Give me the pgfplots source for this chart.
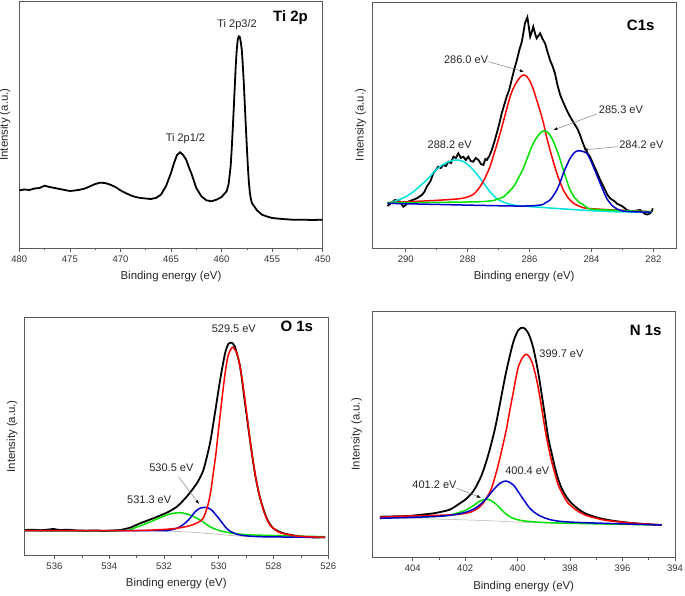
\documentclass[border=0pt]{standalone}
\usepackage{pgfplots}
\pgfplotsset{compat=1.18}
\usepackage{fontspec}
\setmainfont{Liberation Sans}
\usetikzlibrary{arrows.meta}
\definecolor{cred}{RGB}{255,0,0}
\definecolor{cgreen}{RGB}{0,225,0}
\definecolor{cblue}{RGB}{0,0,205}
\definecolor{ccyan}{RGB}{0,225,225}
\definecolor{axgray}{RGB}{90,90,90}
\pgfplotsset{
  xps/.style={
    scale only axis, x dir=reverse, ymin=0,
    ytick=\empty, xtick pos=bottom, tick align=outside,
    major tick length=4pt, minor tick length=2.5pt, minor x tick num=1,
    axis line style={axgray, line width=0.6pt},
    every tick/.style={axgray, line width=0.6pt},
    /pgf/number format/assume math mode=true,
    /pgf/number format/1000 sep={},
    ticklabel style={font=\fontsize{9.5}{10}\selectfont, text=black!80},
    xlabel={Binding energy (eV)}, ylabel={Intensity (a.u.)},
    every axis x label/.style={at={(axis description cs:0.5,0)}, anchor=center, yshift=-29pt, font=\fontsize{11.4}{13}\selectfont, text=black!85},
    every axis y label/.style={at={(axis description cs:0,0.5)}, rotate=90, anchor=center, font=\fontsize{11.4}{13}\selectfont, text=black!85},
  },
  spec/.style={black, line width=1.8pt},
  comp/.style={line width=1.5pt, smooth},
}
\tikzset{
  ann/.style={font=\fontsize{11}{13}\selectfont, text=black!85},
  ttl/.style={font=\bfseries\fontsize{15}{17}\selectfont},
  arr/.style={gray, line width=0.5pt, -{Latex[length=4pt,width=3pt,black]}},
}
\begin{document}
\begin{tikzpicture}
\path[use as bounding box] (0,0) rectangle (685pt,595pt);
% ---------------- Ti 2p
\begin{axis}[xps, at={(19.3pt,347pt)}, anchor=south west, width=303.4pt, height=247pt,
  xmin=450, xmax=480, ymax=247, xtick={450,455,...,480},
  ylabel style={yshift=14.3pt}]
\addplot[spec] coordinates {
(480,57.7) (479.5,58.5) (479,58) (478.5,59.5) (478,60) (477.5,62.3) (477,61) (476.5,60) (476,59) (475.5,58) (475,57) (474.5,57.5) (474,58.3) (473.5,59.5) (473,61.7) (472.5,64) (472,65.3) (471.5,65) (471,63.3) (470.5,61) (470,57.7) (469.5,55) (469,52.7) (468.5,51) (468,50) (467.5,49.5) (467,49) (466.5,50) (466,53.3) (465.5,61.7) (465,75) (464.7,85) (464.4,93) (464.1,95.7) (463.8,93) (463.5,88.3) (463.2,80) (463,75) (462.7,66) (462.5,60) (462,51.7) (461.5,47.7) (461,46.7) (460.5,48.3) (460,51) (459.5,56.7) (459.3,64) (459.1,82) (459,98.3) (458.9,118) (458.8,138.3) (458.7,160) (458.6,181.7) (458.5,198) (458.4,208.3) (458.3,211.7) (458.2,211) (458.1,206) (458.0,198.3) (457.9,183) (457.8,165) (457.7,143) (457.6,121.7) (457.5,101) (457.4,81.7) (457.3,66) (457.2,55) (457.1,49) (457,45) (456.5,37.7) (456,33.3) (455.5,31.5) (455,30) (454.5,29.5) (454,29) (453,28.3) (452,28.3) (451,28) (450,28.3)};
\node[ttl] at (axis cs:453.18,230.7) {Ti 2p};
\node[ann] at (axis cs:458.47,223) {Ti 2p3/2};
\node[ann] at (axis cs:463.57,109.7) {Ti 2p1/2};
\end{axis}
% ---------------- C1s
\begin{axis}[xps, at={(372.3pt,347pt)}, anchor=south west, width=303.7pt, height=246pt,
  xmin=281.27, xmax=291.08, ymax=246, xtick={282,284,...,290},
  ylabel style={yshift=11.6pt}]
\addplot[spec] coordinates {
(290.59,42) (290.47,45) (290.35,48) (290.25,47) (290.18,46.3) (290.08,41.3) (290.0,43) (289.92,46.3) (289.78,48) (289.64,49.7) (289.48,53) (289.40,56) (289.32,61.3) (289.2,67) (289.11,74.7) (288.95,81.3) (288.87,80) (288.79,83) (288.70,82) (288.62,86.3) (288.54,85) (288.46,91.3) (288.38,90) (288.30,94.7) (288.22,90) (288.14,91.3) (288.06,88) (287.98,91.3) (287.90,87) (287.82,86.3) (287.74,90) (287.65,88) (287.57,84) (287.49,83) (287.43,89) (287.38,88) (287.30,92) (287.22,98) (287.14,106) (287.06,114.7) (286.98,124) (286.90,134.7) (286.82,143) (286.74,151.3) (286.66,158) (286.58,168) (286.50,178) (286.41,188) (286.33,198) (286.25,206.3) (286.20,215) (286.15,224.7) (286.07,230.7) (286.02,220) (285.98,211.3) (285.93,216) (285.88,221.3) (285.82,214) (285.77,209.7) (285.72,212) (285.66,214.7) (285.58,209) (285.50,204.7) (285.42,196) (285.34,188) (285.26,182) (285.18,174.7) (285.10,163) (285.01,153) (284.93,147) (284.85,141.3) (284.77,136) (284.69,131.3) (284.61,127) (284.53,123) (284.45,119) (284.37,113) (284.29,106) (284.21,99.7) (284.13,95) (284.05,91.3) (283.96,85) (283.88,79.7) (283.80,74) (283.72,68) (283.64,63) (283.56,58) (283.48,53) (283.40,49.7) (283.32,48) (283.24,46.3) (283.16,44) (283.08,43) (282.97,41) (282.86,38) (282.75,37) (282.65,36.3) (282.54,37.5) (282.43,38) (282.35,36) (282.27,34) (282.19,33.5) (282.11,34.7) (282.05,37) (282.02,39.7)};
\addplot[comp, ccyan] coordinates {
(290.59,44.7) (290.18,48.7) (289.96,52) (289.75,56.3) (289.54,62) (289.32,68) (289.16,73.5) (289.00,78.7) (288.84,82.5) (288.68,85.3) (288.49,87.5) (288.30,88) (288.11,86) (287.92,81.3) (287.76,76) (287.60,69.7) (287.44,63) (287.28,56.3) (287.12,51) (286.95,47.3) (286.52,43) (285.66,40.7) (284.37,38) (283.29,36.3) (282.05,35.7)};
\addplot[comp, cred] coordinates {
(290.59,45.3) (289.21,47.3) (288.35,49) (288.03,50.7) (287.80,54) (287.60,61.3) (287.44,70) (287.28,81.3) (287.12,97) (286.95,114.7) (286.79,133) (286.63,151.3) (286.52,160) (286.41,166.3) (286.30,171) (286.20,173) (286.09,171.5) (285.98,166.3) (285.87,158) (285.77,148) (285.66,137) (285.55,124.7) (285.45,111) (285.34,98) (285.23,86) (285.12,74.7) (285.01,65.5) (284.91,58) (284.75,50) (284.58,44.7) (284.37,41.5) (284.15,39.7) (283.29,38) (282.05,36.3)};
\addplot[comp, cgreen] coordinates {
(290.59,45.3) (287.60,46.3) (286.95,49.7) (286.74,54) (286.52,61.3) (286.36,70) (286.20,79.7) (286.06,91) (285.93,101.3) (285.82,108) (285.71,113) (285.62,116) (285.52,117.3) (285.43,116) (285.34,113) (285.23,106.5) (285.12,98) (285.01,88) (284.91,78) (284.80,67.5) (284.69,58) (284.55,50.5) (284.42,46.3) (284.18,41.5) (283.94,38.7) (282.05,36.3)};
\addplot[comp, cblue] coordinates {
(290.59,44.7) (286.52,42) (285.66,43) (285.50,45) (285.34,48) (285.23,52.5) (285.12,58) (285.01,66) (284.91,74.7) (284.80,82.5) (284.69,89.7) (284.55,95.5) (284.42,97.3) (284.28,96.5) (284.15,94.7) (284.04,88.5) (283.94,81.3) (283.83,73) (283.72,64.7) (283.61,56.5) (283.51,49.7) (283.40,45) (283.29,41.3) (282.97,37) (282.05,35.7)};
\node[ttl] at (axis cs:282.41,223) {C1s};
\node[ann] at (axis cs:288.05,188) {286.0 eV};
\draw[arr] (axis cs:287.33,186.3) -- (axis cs:286.18,176.3);
\node[ann] at (axis cs:283.05,138.7) {285.3 eV};
\draw[arr] (axis cs:283.83,134) -- (axis cs:285.23,118);
\node[ann] at (axis cs:282.39,103) {284.2 eV};
\draw[arr] (axis cs:283.16,101.3) -- (axis cs:284.26,98);
\node[ann] at (axis cs:288.58,103) {288.2 eV};
\end{axis}
% ---------------- O 1s
\begin{axis}[xps, at={(24.3pt,40pt)}, anchor=south west, width=304pt, height=237.3pt,
  xmin=526, xmax=537.1, ymax=237.3, xtick={526,528,...,536},
  ylabel style={yshift=12pt}]
\addplot[spec, smooth, tension=0.4] coordinates {
(537.07,25) (536.8,25.3) (536.5,24.8) (536.2,25.5) (536.04,26) (535.8,25) (535.5,25.3) (535.2,24.6) (534.82,24.3) (534.5,24.6) (534.21,24) (533.9,24.5) (533.60,25) (533.24,27.3) (532.87,31.7) (532.39,36.7) (531.90,42.3) (531.53,48.3) (531.17,58.3) (530.80,71.7) (530.56,85) (530.32,111.7) (530.14,141.7) (529.95,175) (529.77,201.7) (529.65,211) (529.53,212.3) (529.41,208.3) (529.22,188.3) (529.04,151.7) (528.86,115) (528.68,81.7) (528.49,56.7) (528.25,36.7) (528.01,26.7) (527.64,21.7) (527.15,19) (526.67,17.7) (526.12,17.7)};
\addplot[gray!70, line width=0.5pt, smooth] coordinates {
(537.07,24.7) (533.0,24.5) (532.0,24) (531.0,22.8) (530.0,20.6) (529.2,18.8) (528.5,18.2) (526.12,17.7)};
\addplot[comp, cgreen] coordinates {
(537.07,24.3) (533.60,24.3) (533.12,26.7) (532.63,31.7) (532.14,37.3) (531.78,41) (531.41,42.3) (531.05,40) (530.68,35) (530.32,28.3) (529.95,24.3) (529.47,21.7) (528.74,20) (526.12,18.3)};
\addplot[comp, cblue] coordinates {
(537.07,24.3) (532.39,24.3) (531.78,25) (531.41,28.3) (531.11,35) (530.86,43.3) (530.70,46.5) (530.53,47.7) (530.38,47) (530.26,45) (530.10,40) (529.95,35) (529.80,29.5) (529.65,25) (529.45,22) (529.22,20) (528.49,18.3) (526.12,17.7)};
\addplot[comp, cred] coordinates {
(537.07,24.3) (533.6,24.3) (532.39,25) (531.53,26.7) (530.98,30) (530.62,35) (530.50,41) (530.38,51.7) (530.29,64) (530.20,81.7) (530.10,102) (530.01,125) (529.92,147) (529.83,168.3) (529.74,187) (529.65,200) (529.50,207.7) (529.34,201.7) (529.25,192) (529.16,178.3) (529.07,161) (528.98,141.7) (528.89,122) (528.80,103.3) (528.70,86) (528.61,71.7) (528.49,57) (528.37,45) (528.25,36.5) (528.13,30) (527.95,25.5) (527.76,22.3) (527.15,19) (526.12,17.7)};
\node[ttl] at (axis cs:527.15,228.3) {O 1s};
\node[ann] at (axis cs:529.45,226.7) {529.5 eV};
\node[ann] at (axis cs:531.73,87.7) {530.5 eV};
\draw[arr] (axis cs:531.47,78.3) -- (axis cs:530.72,51);
\node[ann] at (axis cs:532.54,55) {531.3 eV};
\end{axis}
% ---------------- N 1s
\begin{axis}[xps, at={(372.3pt,37.7pt)}, anchor=south west, width=302.7pt, height=246.3pt,
  xmin=394, xmax=405.54, ymax=246.3, xtick={394,396,...,404},
  ylabel style={yshift=15.6pt}]
\addplot[spec, smooth] coordinates {
(405.25,40.6) (404.6,41) (404.17,41.3) (403.53,43) (403.2,44) (402.89,45.6) (402.6,47.5) (402.39,50.6) (402.2,54) (402.01,57.3) (401.8,62.5) (401.62,69) (401.37,82.3) (401.12,102.3) (400.86,129) (400.61,162.3) (400.48,180) (400.35,195.6) (400.16,215.6) (399.97,227.3) (399.78,229.6) (399.59,224) (399.40,209) (399.21,184) (399.02,152.3) (398.83,119) (398.70,104) (398.57,89) (398.45,78) (398.32,69) (398.13,60) (397.94,54) (397.7,48.5) (397.43,44) (397.0,40) (396.54,37.3) (396.0,35.3) (395.52,34) (395.0,33) (394.51,32.3)};
\addplot[gray!60, line width=0.5pt, smooth] coordinates {
(405.25,39.6) (401.5,37) (399.7,34.8) (397.5,33.5) (394.51,32.3)};
\addplot[comp, cgreen] coordinates {
(405.25,39.6) (403.0,41) (402.13,45.6) (401.75,50.6) (401.43,56.3) (401.14,58) (400.86,54) (400.54,45.6) (400.23,39.6) (399.72,36.3) (398.45,34.3) (394.51,32.3)};
\addplot[comp, cred] coordinates {
(405.25,40) (404.17,41.3) (403.0,42) (402.26,43) (401.75,45.6) (401.37,52.3) (401.05,65.6) (400.90,77) (400.74,92.3) (400.58,110) (400.42,129) (400.29,148) (400.16,165.6) (400.06,180) (399.97,190.6) (399.83,199) (399.69,203) (399.57,201) (399.46,195.6) (399.33,184) (399.21,169) (399.08,149) (398.96,129) (398.83,111) (398.70,95.6) (398.57,83) (398.45,72.3) (398.26,62) (398.07,54) (397.75,47) (397.43,42.3) (397.0,39) (396.54,36.6) (395.52,34) (394.51,32.3)};
\addplot[comp, cblue] coordinates {
(405.25,39) (403.0,41) (402.13,44) (401.62,49) (401.24,57.3) (400.93,67.3) (400.67,74) (400.44,76.3) (400.16,72.3) (399.85,60.6) (399.53,49) (399.21,42.3) (398.70,37.3) (397.81,35) (394.51,32.3)};
\node[ttl] at (axis cs:395.12,227.3) {N 1s};
\node[ann] at (axis cs:398.33,203.5) {399.7 eV};
\node[ann] at (axis cs:399.63,86.8) {400.4 eV};
\node[ann] at (axis cs:403.17,72.3) {401.2 eV};
\draw[arr] (axis cs:402.32,69) -- (axis cs:401.40,59.6);
\end{axis}
\end{tikzpicture}
\end{document}
